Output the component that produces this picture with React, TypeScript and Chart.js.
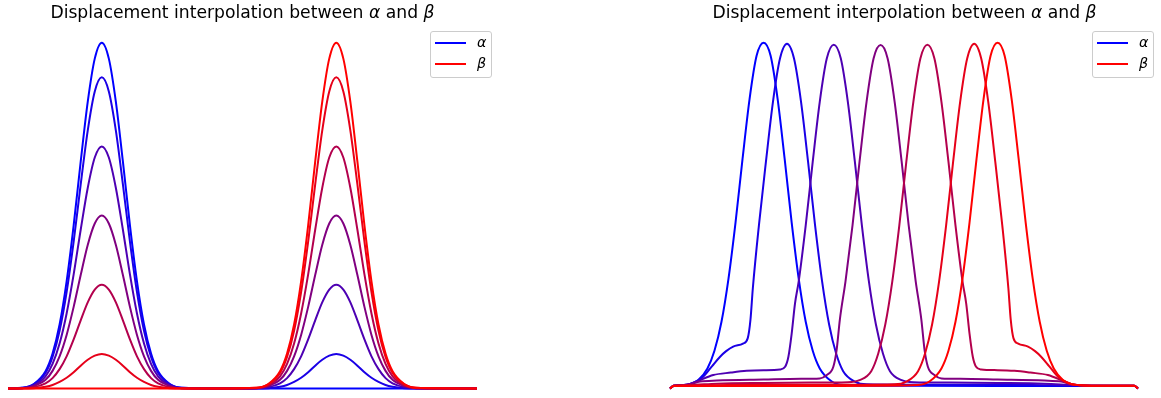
import React, { useEffect, useRef } from "react";
import { Chart, registerables } from "chart.js";

Chart.register(...registerables);

// ---------- text ----------
const titleText = "Displacement interpolation between";
const legendLabels = ["α", "β"];
// interpolation times t (0 = α, 1 = β)
const tSteps = [0, 0.1, 0.3, 0.5, 0.7, 0.9, 1];

// ---------- left panel : values on a shared x grid ----------
const leftX = [0, 0.03, 0.055, 0.08, 0.095, 0.11, 0.125, 0.14, 0.155, 0.17, 0.185, 0.2, 0.215, 0.23, 0.245, 0.26, 0.275, 0.29, 0.305, 0.32, 0.345, 0.37, 0.45, 0.53, 0.555, 0.58, 0.595, 0.61, 0.625, 0.64, 0.655, 0.67, 0.685, 0.7, 0.715, 0.73, 0.745, 0.76, 0.775, 0.79, 0.805, 0.82, 0.845, 0.87, 1];
const leftT00 = [0, 0.002, 0.013, 0.050, 0.101, 0.185, 0.310, 0.472, 0.656, 0.829, 0.954, 1.000, 0.954, 0.829, 0.656, 0.472, 0.310, 0.185, 0.101, 0.050, 0.013, 0.002, 0, 0, 0, 0, 0, 0, 0, 0, 0, 0, 0, 0, 0, 0, 0, 0, 0, 0, 0, 0, 0, 0, 0];
const leftT01 = [0, 0.002, 0.012, 0.045, 0.091, 0.167, 0.279, 0.425, 0.590, 0.746, 0.859, 0.900, 0.859, 0.746, 0.590, 0.425, 0.279, 0.167, 0.091, 0.045, 0.012, 0.002, 0, 0.000, 0.001, 0.005, 0.010, 0.019, 0.031, 0.047, 0.066, 0.083, 0.095, 0.100, 0.095, 0.083, 0.066, 0.047, 0.031, 0.019, 0.010, 0.005, 0.001, 0.000, 0];
const leftT03 = [0, 0.001, 0.009, 0.035, 0.071, 0.130, 0.217, 0.330, 0.459, 0.580, 0.668, 0.700, 0.668, 0.580, 0.459, 0.330, 0.217, 0.130, 0.071, 0.035, 0.009, 0.001, 0, 0.001, 0.004, 0.015, 0.030, 0.056, 0.093, 0.142, 0.197, 0.249, 0.286, 0.300, 0.286, 0.249, 0.197, 0.142, 0.093, 0.056, 0.030, 0.015, 0.004, 0.001, 0];
const leftT05 = [0, 0.001, 0.007, 0.025, 0.051, 0.093, 0.155, 0.236, 0.328, 0.415, 0.477, 0.500, 0.477, 0.415, 0.328, 0.236, 0.155, 0.093, 0.051, 0.025, 0.007, 0.001, 0, 0.001, 0.007, 0.025, 0.051, 0.093, 0.155, 0.236, 0.328, 0.415, 0.477, 0.500, 0.477, 0.415, 0.328, 0.236, 0.155, 0.093, 0.051, 0.025, 0.007, 0.001, 0];
const leftT07 = [0, 0.001, 0.004, 0.015, 0.030, 0.056, 0.093, 0.142, 0.197, 0.249, 0.286, 0.300, 0.286, 0.249, 0.197, 0.142, 0.093, 0.056, 0.030, 0.015, 0.004, 0.001, 0, 0.001, 0.009, 0.035, 0.071, 0.130, 0.217, 0.330, 0.459, 0.580, 0.668, 0.700, 0.668, 0.580, 0.459, 0.330, 0.217, 0.130, 0.071, 0.035, 0.009, 0.001, 0];
const leftT09 = [0, 0.000, 0.001, 0.005, 0.010, 0.019, 0.031, 0.047, 0.066, 0.083, 0.095, 0.100, 0.095, 0.083, 0.066, 0.047, 0.031, 0.019, 0.010, 0.005, 0.001, 0.000, 0, 0.002, 0.012, 0.045, 0.091, 0.167, 0.279, 0.425, 0.590, 0.746, 0.859, 0.900, 0.859, 0.746, 0.590, 0.425, 0.279, 0.167, 0.091, 0.045, 0.012, 0.002, 0];
const leftT10 = [0, 0, 0, 0, 0, 0, 0, 0, 0, 0, 0, 0, 0, 0, 0, 0, 0, 0, 0, 0, 0, 0, 0, 0.002, 0.013, 0.050, 0.101, 0.185, 0.310, 0.472, 0.656, 0.829, 0.954, 1.000, 0.954, 0.829, 0.656, 0.472, 0.310, 0.185, 0.101, 0.050, 0.013, 0.002, 0];
const leftSeries = [leftT00, leftT01, leftT03, leftT05, leftT07, leftT09, leftT10];

// ---------- right panel : each curve has its own x samples ----------
const rightX00 = [0, 0.008, 0.03, 0.043, 0.06, 0.08, 0.095, 0.11, 0.125, 0.14, 0.155, 0.17, 0.185, 0.2, 0.215, 0.23, 0.245, 0.26, 0.275, 0.29, 0.305, 0.32, 0.345, 0.37, 0.45, 0.7, 0.992, 1];
const rightY00 = [0, 0.008, 0.010, 0.013, 0.024, 0.058, 0.109, 0.193, 0.318, 0.480, 0.664, 0.837, 0.962, 1.0, 0.962, 0.837, 0.664, 0.480, 0.318, 0.193, 0.109, 0.058, 0.021, 0.010, 0.008, 0.007, 0.007, 0];

const rightX01 = [0, 0.008, 0.03, 0.043, 0.071, 0.09, 0.107, 0.12, 0.135, 0.156, 0.166, 0.172, 0.177, 0.19, 0.205, 0.22, 0.235, 0.25, 0.265, 0.28, 0.295, 0.31, 0.325, 0.34, 0.355, 0.37, 0.395, 0.42, 0.5, 0.7, 0.85, 0.992, 1];
const rightY01 = [0, 0.008, 0.010, 0.013, 0.034, 0.065, 0.092, 0.108, 0.121, 0.130, 0.145, 0.20, 0.29, 0.472, 0.656, 0.829, 0.954, 0.997, 0.954, 0.829, 0.656, 0.472, 0.310, 0.185, 0.101, 0.050, 0.020, 0.012, 0.011, 0.011, 0.009, 0.008, 0];

const rightX03 = [0, 0.008, 0.03, 0.043, 0.06, 0.0925, 0.13, 0.164, 0.2, 0.235, 0.246, 0.253, 0.26, 0.267, 0.275, 0.29, 0.305, 0.32, 0.335, 0.35, 0.365, 0.38, 0.395, 0.41, 0.425, 0.44, 0.455, 0.47, 0.495, 0.52, 0.6, 0.7, 0.8, 0.86, 0.9, 0.992, 1];
const rightY03 = [0, 0.008, 0.010, 0.013, 0.022, 0.039, 0.046, 0.051, 0.053, 0.055, 0.063, 0.092, 0.159, 0.245, 0.310, 0.472, 0.656, 0.829, 0.954, 0.994, 0.954, 0.829, 0.656, 0.472, 0.310, 0.185, 0.101, 0.050, 0.024, 0.018, 0.017, 0.016, 0.014, 0.010, 0.008, 0.008, 0];

const rightX05 = [0, 0.008, 0.03, 0.043, 0.064, 0.1, 0.2, 0.28, 0.32, 0.335, 0.349, 0.356, 0.363, 0.375, 0.39, 0.405, 0.42, 0.435, 0.45, 0.465, 0.48, 0.495, 0.51, 0.525, 0.537, 0.544, 0.551, 0.565, 0.58, 0.62, 0.7, 0.8, 0.836, 0.857, 0.87, 0.9, 0.992, 1];
const rightY05 = [0, 0.008, 0.010, 0.013, 0.020, 0.023, 0.026, 0.028, 0.029, 0.039, 0.063, 0.111, 0.200, 0.310, 0.472, 0.656, 0.829, 0.954, 0.993, 0.954, 0.829, 0.656, 0.472, 0.310, 0.200, 0.111, 0.063, 0.039, 0.029, 0.028, 0.026, 0.023, 0.020, 0.013, 0.010, 0.008, 0.008, 0];

const rightX07 = [0, 0.008, 0.04, 0.1, 0.2, 0.3, 0.38, 0.405, 0.43, 0.445, 0.46, 0.475, 0.49, 0.505, 0.52, 0.535, 0.55, 0.565, 0.58, 0.595, 0.61, 0.625, 0.633, 0.64, 0.647, 0.654, 0.665, 0.7, 0.736, 0.77, 0.8075, 0.84, 0.857, 0.87, 0.9, 0.992, 1];
const rightY07 = [0, 0.008, 0.010, 0.014, 0.016, 0.017, 0.018, 0.024, 0.050, 0.101, 0.185, 0.310, 0.472, 0.656, 0.829, 0.954, 0.994, 0.954, 0.829, 0.656, 0.472, 0.310, 0.245, 0.159, 0.092, 0.063, 0.055, 0.053, 0.051, 0.046, 0.039, 0.022, 0.013, 0.010, 0.008, 0.008, 0];

const rightX09 = [0, 0.008, 0.05, 0.2, 0.4, 0.48, 0.505, 0.53, 0.545, 0.56, 0.575, 0.59, 0.605, 0.62, 0.635, 0.65, 0.665, 0.68, 0.695, 0.71, 0.723, 0.728, 0.734, 0.744, 0.765, 0.78, 0.793, 0.81, 0.829, 0.857, 0.87, 0.9, 0.992, 1];
const rightY09 = [0, 0.008, 0.009, 0.011, 0.011, 0.012, 0.020, 0.050, 0.101, 0.185, 0.310, 0.472, 0.656, 0.829, 0.954, 0.997, 0.954, 0.829, 0.656, 0.472, 0.29, 0.20, 0.145, 0.130, 0.121, 0.108, 0.092, 0.065, 0.034, 0.013, 0.010, 0.008, 0.008, 0];

const rightX10 = [0, 0.008, 0.2, 0.45, 0.53, 0.555, 0.58, 0.595, 0.61, 0.625, 0.64, 0.655, 0.67, 0.685, 0.7, 0.715, 0.73, 0.745, 0.76, 0.775, 0.79, 0.805, 0.82, 0.84, 0.857, 0.87, 0.9, 0.992, 1];
const rightY10 = [0, 0.007, 0.007, 0.008, 0.010, 0.021, 0.058, 0.109, 0.193, 0.318, 0.480, 0.664, 0.837, 0.962, 1.0, 0.962, 0.837, 0.664, 0.480, 0.318, 0.193, 0.109, 0.058, 0.024, 0.013, 0.010, 0.008, 0.008, 0];

const rightXs = [rightX00, rightX01, rightX03, rightX05, rightX07, rightX09, rightX10];
const rightYs = [rightY00, rightY01, rightY03, rightY05, rightY07, rightY09, rightY10];

// ---------- helpers ----------
const colorFor = (t: number) => `rgb(${Math.round(255 * t)},0,${Math.round(255 * (1 - t))})`;

type Curve = { xs: number[]; ys: number[] };

function Panel(props: {
  curves: Curve[];
  left: number;
  width: number;
  height: number;
  padding: { left: number; right: number; top: number; bottom: number };
  yMin: number;
  yMax: number;
}) {
  const ref = useRef<HTMLCanvasElement | null>(null);
  useEffect(() => {
    if (!ref.current) return;
    const n = props.curves.length;
    const chart = new Chart(ref.current, {
      type: "line",
      data: {
        datasets: props.curves.map((c, i) => ({
          label: "t=" + tSteps[i],
          data: c.xs.map((x, k) => ({ x, y: c.ys[k] })),
          borderColor: colorFor(tSteps[i]),
          backgroundColor: colorFor(tSteps[i]),
          borderWidth: 2,
          pointRadius: 0,
          fill: false,
          cubicInterpolationMode: "monotone" as const,
          clip: false as any,
          order: n - 1 - i,
        })),
      },
      options: {
        animation: false,
        responsive: false,
        maintainAspectRatio: false,
        devicePixelRatio: 1,
        layout: { padding: props.padding },
        plugins: {
          legend: { display: false },
          title: { display: false },
          tooltip: { enabled: false },
        },
        events: [],
        scales: {
          x: { type: "linear", min: 0, max: 1, display: false, bounds: "data" },
          y: { type: "linear", min: props.yMin, max: props.yMax, display: false, bounds: "data" },
        },
      },
    });
    return () => chart.destroy();
  }, []);
  return (
    <canvas
      ref={ref}
      width={props.width}
      height={props.height}
      style={{ position: "absolute", left: props.left, top: 0, width: props.width, height: props.height }}
    />
  );
}

function Title(props: { center: number }) {
  return (
    <div
      style={{
        position: "absolute",
        left: props.center - 300,
        top: 2,
        width: 600,
        textAlign: "center",
        fontFamily: "'DejaVu Sans', sans-serif",
        fontSize: "17.2px",
        lineHeight: "20px",
        color: "#000",
        whiteSpace: "nowrap",
      }}
    >
      {titleText} <i>{legendLabels[0]}</i> and <i>{legendLabels[1]}</i>
    </div>
  );
}

function Legend(props: { left: number }) {
  const L = props.left;
  const line = (top: number, color: string) => (
    <div style={{ position: "absolute", left: L + 5, top, width: 31, height: 2, background: color }} />
  );
  const label = (top: number, text: string) => (
    <div
      style={{
        position: "absolute",
        left: L + 47,
        top,
        fontFamily: "'DejaVu Sans', sans-serif",
        fontStyle: "italic",
        fontSize: "14.3px",
        lineHeight: "16px",
        color: "#000",
        whiteSpace: "nowrap",
      }}
    >
      {text}
    </div>
  );
  return (
    <>
      <div
        style={{
          position: "absolute",
          left: L,
          top: 31,
          width: 62,
          height: 47,
          boxSizing: "border-box",
          border: "1px solid #cccccc",
          borderRadius: 3,
          background: "rgba(255,255,255,0.8)",
        }}
      />
      {line(41.7, colorFor(0))}
      {line(63.3, colorFor(1))}
      {label(34, legendLabels[0])}
      {label(55, legendLabels[1])}
    </>
  );
}

export default function App() {
  const leftCurves: Curve[] = leftSeries.map((ys) => ({ xs: leftX, ys }));
  const rightCurves: Curve[] = rightXs.map((xs, i) => ({ xs, ys: rightYs[i] }));
  // y: 0 -> 388.5 px, 1 -> 42.7 px ; chart area 25..396
  const yMin = -0.02169;
  const yMax = 1.05119;
  return (
    <div style={{ position: "fixed", left: 0, top: 0, width: 1161, height: 398, background: "#fff", overflow: "hidden" }}>
      <Panel curves={leftCurves} left={0} width={580} height={398} padding={{ left: 8, right: 103, top: 25, bottom: 2 }} yMin={yMin} yMax={yMax} />
      <Panel curves={rightCurves} left={580} width={581} height={398} padding={{ left: 90, right: 23, top: 25, bottom: 2 }} yMin={yMin} yMax={yMax} />
      <Title center={242.5} />
      <Title center={904.5} />
      <Legend left={430} />
      <Legend left={1092} />
    </div>
  );
}
